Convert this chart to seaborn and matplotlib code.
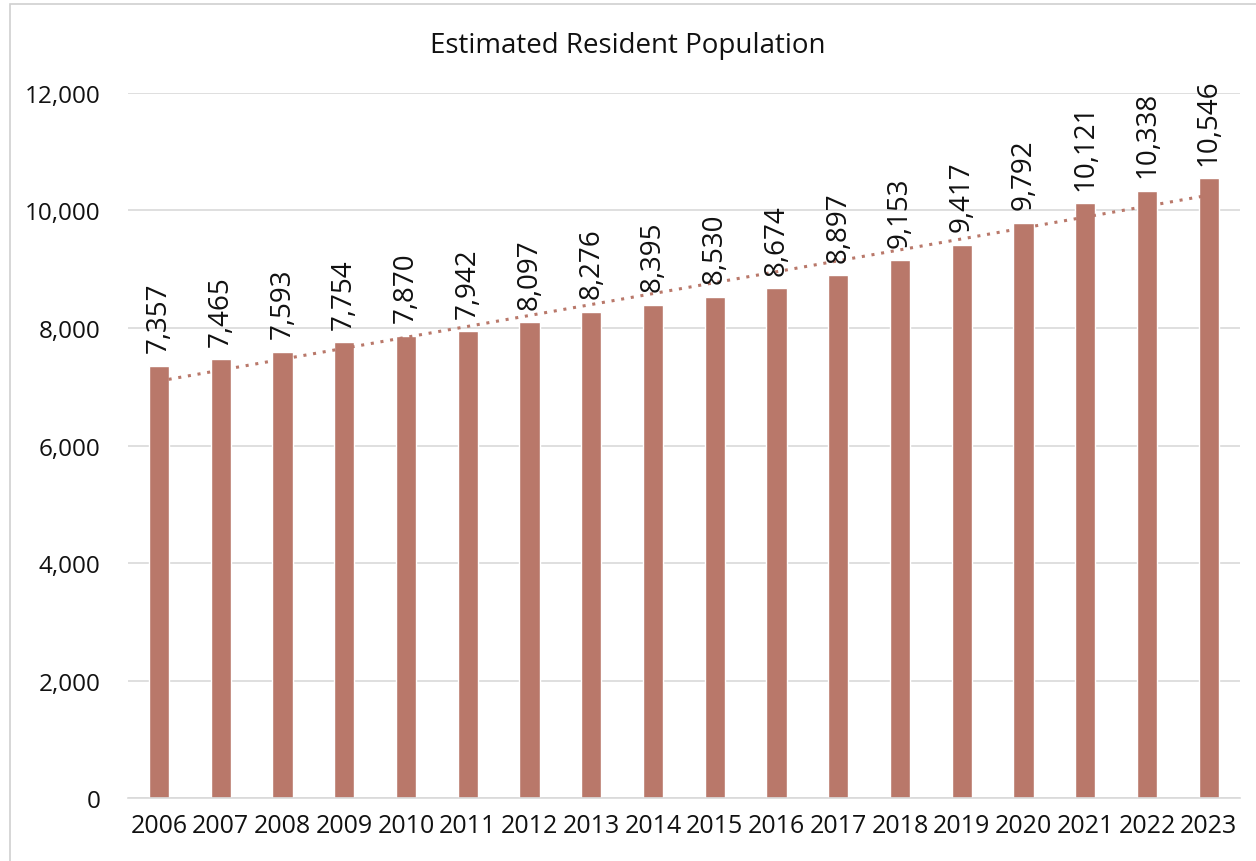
import numpy as np
import pandas as pd
import seaborn as sns
import matplotlib.pyplot as plt
from matplotlib.patches import Rectangle

years = ['2006', '2007', '2008', '2009', '2010', '2011', '2012', '2013', '2014',
         '2015', '2016', '2017', '2018', '2019', '2020', '2021', '2022', '2023']
population = [7357, 7465, 7593, 7754, 7870, 7942, 8097, 8276, 8395,
              8530, 8674, 8897, 9153, 9417, 9792, 10121, 10338, 10546]

bar_color = '#b9786a'

df = pd.DataFrame({'year': years, 'population': population})
df['idx'] = np.arange(len(df))

sns.set_style('white')
plt.rcParams['font.family'] = ['Open Sans', 'DejaVu Sans']

fig = plt.figure(figsize=(12.56, 8.62), dpi=100)
ax = fig.add_axes([0.102, 0.073, 0.885, 0.818])

sns.barplot(data=df, x='year', y='population', color=bar_color,
            width=0.33, saturation=1, ax=ax)

# linear trendline
sns.regplot(data=df, x='idx', y='population', scatter=False, ci=None,
            truncate=True, color=bar_color,
            line_kws={'linestyle': (0, (1, 2.2)), 'linewidth': 2.2}, ax=ax)

for i, v in enumerate(population):
    ax.text(i, v + 230, f'{v:,}', rotation=90, ha='center', va='bottom',
            fontsize=20, color='#111111')

ax.set_ylim(0, 12000)
ax.set_xlim(-0.5, len(years) - 0.5)
ax.set_yticks(range(0, 12001, 2000))
ax.set_yticklabels([f'{t:,}' for t in range(0, 12001, 2000)])
ax.yaxis.grid(True, color='#d9d9d9', linewidth=1.2)
ax.set_axisbelow(True)
for s in ['top', 'right', 'left']:
    ax.spines[s].set_visible(False)
ax.spines['bottom'].set_color('#d9d9d9')
ax.spines['bottom'].set_linewidth(1.2)
ax.tick_params(axis='both', length=0, colors='#111111')
ax.tick_params(axis='y', pad=20, labelsize=17.5)
ax.tick_params(axis='x', pad=11, labelsize=18)
ax.set_xlabel('')
ax.set_ylabel('')

fig.text(0.5, 0.947, 'Estimated Resident Population', ha='center', va='center',
         fontsize=20, color='#111111')

fig.patches.append(Rectangle((0.008, -0.01), 1.0, 1.004, transform=fig.transFigure,
                             fill=False, edgecolor='#d0d0d0', linewidth=1.2))

fig.savefig('out.png', dpi=100)
